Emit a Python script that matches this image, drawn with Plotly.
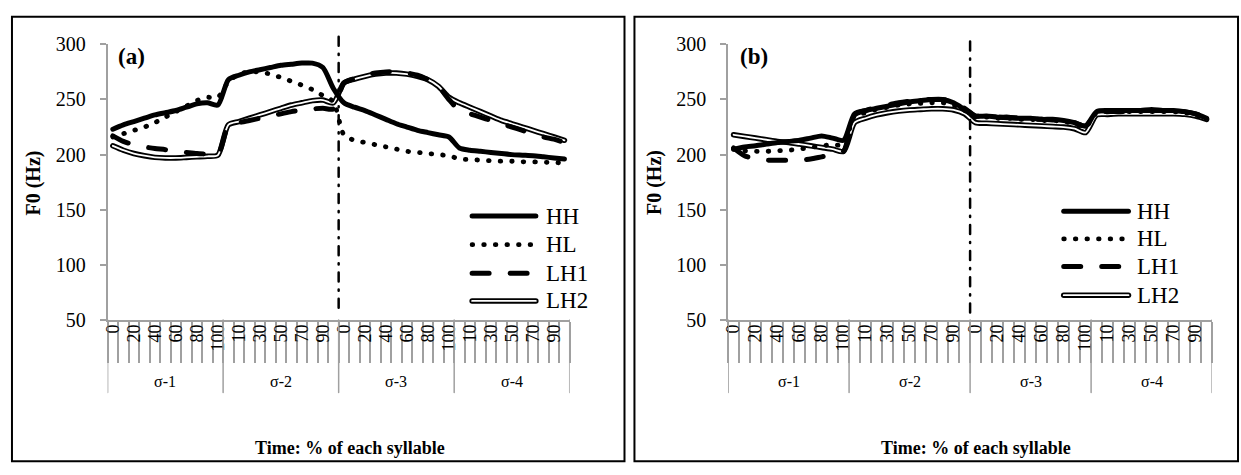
import plotly.graph_objects as go

W, H = 1241, 475
FONT = "Liberation Serif"

# ---------------- data ----------------
syllables = ["σ-1", "σ-2", "σ-3", "σ-4"]
steps = [0, 10, 20, 30, 40, 50, 60, 70, 80, 90, 100]
series_names = ["HH", "HL", "LH1", "LH2"]

a_HH = [223, 227, 230, 233, 236, 238, 240, 243, 246, 247, 245,
        268, 272, 275, 277, 279, 281, 282, 283, 283, 279, 260,
        247, 243, 240, 236, 232, 228, 225, 222, 220, 218, 216,
        206, 204, 203, 202, 201, 200, 199.5, 199, 198, 197, 196]
a_HL = [216, 219, 222, 225, 229, 234, 239, 244, 249, 252, 252,
        266, 273, 275, 275, 273, 270, 266.5, 263, 259, 253.5, 248,
        218, 213, 211, 209, 207, 205, 203, 202, 201, 200, 199,
        196, 195.5, 195, 194.5, 194, 194, 193.5, 193.5, 193, 193, 192]
a_LH1 = [217, 212, 209, 207, 205.5, 204.5, 203, 202, 201, 200.5, 200,
         226, 229, 231, 233, 235, 237, 239, 240.5, 241.5, 242, 241.5,
         265, 269, 272, 274, 275, 275, 274, 272, 268, 262, 250,
         240, 237, 234, 231, 228, 225, 222, 219, 216, 214, 211]
a_LH2 = [208, 204, 201, 199, 197.5, 197, 197, 197.5, 198, 198.5, 199.5,
         227, 230, 233, 236, 239, 242, 245, 247, 249, 249.5, 247,
         265, 268.5, 271, 273, 274, 274, 273, 271, 268, 262, 252,
         247, 243, 239, 235, 231, 228, 225, 222, 219, 216, 213]

b_HH = [205, 207, 208, 209.5, 211, 212, 213, 215, 217, 215, 213,
        237, 240, 242, 244, 246, 248, 249, 250, 250, 247, 241,
        235, 235, 234, 234, 233, 233, 232, 232, 231, 229, 226,
        239, 240, 240, 240, 240, 241, 240, 240, 239, 237, 233]
b_HL = [205, 203.5, 203, 203, 203.5, 204, 205, 206.5, 208, 209, 209,
        235, 238, 241, 243, 245, 246, 246.5, 247, 247, 245, 240,
        234, 234, 233, 233, 232, 232, 231, 231, 230, 228, 225,
        238, 239, 239, 239, 239, 239, 239, 239, 238, 236, 232]
b_LH1 = [206, 199, 196, 195, 195, 195, 195, 196, 198, 200, 203,
         236, 240, 243, 245, 247, 248.5, 249.5, 250, 250, 248, 242,
         235, 235, 234, 233.5, 233, 232.5, 232, 231.5, 231, 229, 226,
         238, 239, 239, 239.5, 240, 240, 240, 239.5, 239, 237, 233]
b_LH2 = [218, 216.5, 215, 213.5, 212, 211, 209.5, 208, 206.5, 205, 203,
         229, 233, 236, 238, 239.5, 240.5, 241, 241.5, 241.5, 240.5, 237,
         229, 228.5, 228, 227.5, 227, 226.5, 226, 225.5, 225, 223.5, 220,
         236, 236.5, 237, 237, 237, 237, 237, 237, 236.5, 235, 232]

y_ticks = [50, 100, 150, 200, 250, 300]
panel_tags = ["(a)", "(b)"]
x_title = "Time: % of each syllable"
y_title = "F0 (Hz)"

# ---------------- derived ----------------
n_per = len(steps)
N = n_per * len(syllables)
xs = list(range(N))
tick_text = []
for i in range(N):
    tick_text.append(str(steps[i % n_per]) if i % 2 == 0 else "")
boundaries = [k - 0.5 for k in range(N + 1)]
syl_bounds = [k * n_per - 0.5 for k in range(len(syllables) + 1)]
syl_centers = [k * n_per + (n_per - 1) / 2 for k in range(len(syllables))]

def px(x):
    return x / W

def py(y):
    return (H - y) / H

AX = "#a0a0a0"
DOT = "0.6px,11px"       # drawn with round caps -> round dots
DASH = "17px,21px"       # drawn with round caps -> rounded dashes
DASHDOT = "9px,8px,1.2px,8px"

panels = [
    dict(x0=103, x1=567, data=[a_HH, a_HL, a_LH1, a_LH2], xa="x", ya="y", xl="x3",
         border=(7, 622), legx=(469, 533), legtext=541, legy=[215, 245, 275, 304],
         tag=(127, 48), ytitle=29, xtitle=346, dd=(27, 312)),
    dict(x0=726, x1=1212, data=[b_HH, b_HL, b_LH1, b_LH2], xa="x2", ya="y2", xl="x4",
         border=(632, 1238), legx=(1063, 1128), legtext=1135, legy=[210, 239, 268, 298],
         tag=(752, 48), ytitle=652, xtitle=975, dd=(32, 317)),
]

fig = go.Figure()
ydom = [py(324), py(35)]
shapes = []
annotations = []

def ann(text, x, y, size, bold=False, xanchor="center", angle=0, xref="paper"):
    return dict(text=("<b>" + text + "</b>") if bold else text, x=x, y=py(y),
                xref=xref, yref="paper", showarrow=False, xanchor=xanchor,
                yanchor="middle", textangle=angle,
                font=dict(family=FONT, size=size, color="black"))

for pi, p in enumerate(panels):
    hh, hl, lh1, lh2 = p["data"]
    common = dict(x=xs, mode="lines", xaxis=p["xa"], yaxis=p["ya"], showlegend=False,
                  hoverinfo="skip")
    spl = dict(shape="spline", smoothing=0.7)
    fig.add_trace(go.Scatter(y=lh2, line=dict(color="black", width=5.5, **spl), name="LH2", **common))
    fig.add_trace(go.Scatter(y=lh2, line=dict(color="white", width=1.8, **spl), name="LH2", **common))
    fig.add_trace(go.Scatter(y=lh1, line=dict(color="black", width=5, dash=DASH, **spl), name="LH1", **common))
    fig.add_trace(go.Scatter(y=hl, line=dict(color="black", width=4.8, dash=DOT, **spl), name="HL", **common))
    fig.add_trace(go.Scatter(y=hh, line=dict(color="black", width=5, **spl), name="HH", **common))
    # invisible carrier trace so the label axis is drawn
    fig.add_trace(go.Scatter(x=xs, y=hh, mode="lines", line=dict(color="rgba(0,0,0,0)", width=0),
                             xaxis=p["xl"], yaxis=p["ya"], showlegend=False, hoverinfo="skip"))

    xn = "xaxis" if pi == 0 else "xaxis2"
    xln = "xaxis3" if pi == 0 else "xaxis4"
    yn = "yaxis" if pi == 0 else "yaxis2"
    dom = [px(p["x0"]), px(p["x1"])]
    fig.update_layout(**{
        xn: dict(domain=dom, range=[-0.5, N - 0.5], anchor=p["ya"], tickmode="array",
                 tickvals=boundaries, showticklabels=False, ticks="outside", ticklen=41,
                 tickwidth=1.5, tickcolor=AX, showline=True, linecolor=AX, linewidth=1.5,
                 showgrid=False, zeroline=False, fixedrange=True),
        xln: dict(overlaying=p["xa"], anchor=p["ya"], range=[-0.5, N - 0.5], tickmode="array",
                  tickvals=xs, ticktext=tick_text, tickangle=-90, ticks="", showline=False,
                  showgrid=False, zeroline=False, side="bottom", showticklabels=True,
                  tickfont=dict(family=FONT, size=18, color="black")),
        yn: dict(domain=ydom, range=[50, 300], anchor=p["xa"], tickmode="array",
                 tickvals=y_ticks, ticks="outside", ticklen=6, tickwidth=1.5, tickcolor=AX,
                 showline=True, linecolor=AX, linewidth=1.5, showgrid=False, zeroline=False,
                 ticklabelstandoff=10,
                 tickfont=dict(family=FONT, size=20, color="black")),
    })

    # syllable dividers (long)
    for b in syl_bounds:
        shapes.append(dict(type="line", xref=p["xa"], yref="paper", x0=b, x1=b,
                           y0=py(324), y1=py(400), line=dict(color=AX, width=1.5)))
    # dash-dot boundary between σ-2 and σ-3
    shapes.append(dict(type="line", xref=p["xa"], yref="paper", x0=syl_bounds[2], x1=syl_bounds[2],
                       y0=py(p["dd"][0]), y1=py(p["dd"][1]),
                       line=dict(color="black", width=2.5, dash=DASHDOT)))
    # syllable labels
    for s, c in zip(syllables, syl_centers):
        annotations.append(ann(s, c, 389, 16, xref=p["xa"]))
    # panel border
    shapes.append(dict(type="rect", xref="paper", yref="paper", x0=px(p["border"][0]),
                       x1=px(p["border"][1]), y0=py(472), y1=py(6),
                       line=dict(color="black", width=2)))
    # titles
    annotations.append(ann(x_title, px(p["xtitle"]), 458, 18, bold=True))
    annotations.append(ann(y_title, px(p["ytitle"]), 180, 20, bold=True, angle=-90))
    annotations.append(ann(panel_tags[pi], px(p["tag"][0]), p["tag"][1], 23, bold=True))
    # legend
    lx0, lx1 = px(p["legx"][0]), px(p["legx"][1])
    styles = [
        [dict(color="black", width=5)],
        [dict(color="black", width=4.8, dash=DOT)],
        [dict(color="black", width=5, dash=DASH)],
        [dict(color="black", width=5.5), dict(color="white", width=1.8)],
    ]
    for name, ly, st in zip(series_names, p["legy"], styles):
        for s in st:
            shapes.append(dict(type="line", xref="paper", yref="paper", x0=lx0, x1=lx1,
                               y0=py(ly), y1=py(ly), line=s))
        annotations.append(ann(name, px(p["legtext"]), ly, 23, xanchor="left"))

fig.update_layout(width=W, height=H, margin=dict(l=0, r=0, t=0, b=0),
                  paper_bgcolor="white", plot_bgcolor="white", showlegend=False,
                  shapes=shapes, annotations=annotations)

# round line caps (as in the original office chart: round dots, rounded dashes)
post = """
var gd = document.getElementById('{plot_id}');
function roundCaps(){
  gd.querySelectorAll('path.js-line, .shapelayer path').forEach(function(p){
    p.style.strokeLinecap = 'round';
  });
}
roundCaps();
setTimeout(roundCaps, 50);
if (gd.on) { gd.on('plotly_afterplot', roundCaps); }
"""

fig.write_html("out.html", config={"displayModeBar": False}, post_script=post)

# remove the default page margin so the figure sits at the window origin
with open("out.html", encoding="utf-8") as f:
    html = f.read()
html = html.replace("<body>", '<body style="margin:0;padding:0;">', 1)
with open("out.html", "w", encoding="utf-8") as f:
    f.write(html)
